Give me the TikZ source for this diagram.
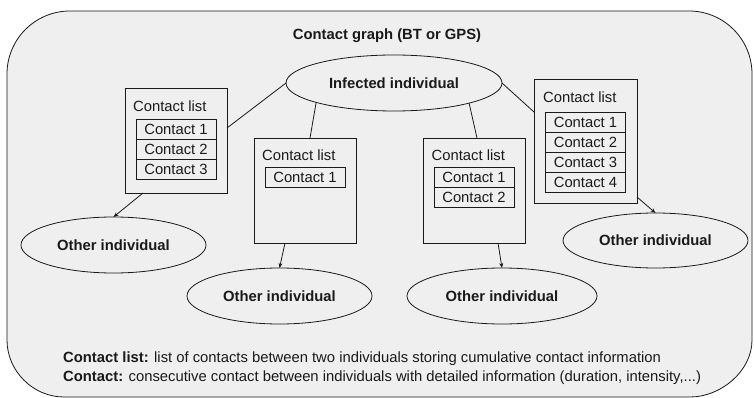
\documentclass[tikz,border=0pt]{standalone}
\usepackage{fontspec}
\setmainfont{Liberation Sans}
\usetikzlibrary{shapes.geometric,arrows.meta}
\definecolor{bggray}{HTML}{EFEFEF}
\definecolor{ink}{HTML}{1A1A1A}
\tikzset{
  x=1pt, y=-1pt,
  every node/.style={font=\fontsize{14.8}{17}\selectfont, text=ink},
  listbox/.style={draw=ink, line width=0.8pt, rectangle, inner sep=0pt, outer sep=0pt, minimum width=102pt},
  cbox/.style={draw=ink, line width=0.8pt, rectangle, inner sep=0pt, outer sep=0pt, minimum width=80pt, minimum height=20pt},
  lbl/.style={anchor=west, inner sep=0pt},
  indiv/.style={draw=ink, line width=0.8pt, ellipse, inner sep=0pt, outer sep=0pt, minimum width=185pt, minimum height=56pt, font=\fontsize{14.8}{17}\selectfont\bfseries},
  link/.style={draw=ink, line width=0.8pt},
  arr/.style={link, -{Stealth[length=5pt,width=4pt]}},
  frame/.style={draw=ink, line width=0.8pt, fill=bggray}
}
\begin{document}
\begin{tikzpicture}
\useasboundingbox (0,0) rectangle (754,398);
% outer frame
\path[frame] (7,74) .. controls (7,39.2) and (35.2,11) .. (70,11)
  -- (689,11) .. controls (723.8,11) and (752,39.2) .. (752,74)
  -- (752,340) .. controls (752,371) and (721,397) .. (690,397)
  -- (64,397) .. controls (33,397) and (7,371) .. (7,340) -- cycle;
\node[font=\fontsize{14.8}{17}\selectfont\bfseries] (title) at (387,36) {Contact graph (BT or GPS)};

% infected individual
\node[indiv, minimum width=216pt] (Inf) at (394,83) {Infected individual};

% contact list boxes
\node[listbox, minimum height=105pt] (A) at (176,140.5) {};
\node[listbox, minimum height=105pt] (B) at (305,190.5) {};
\node[listbox, minimum height=105pt] (C) at (474.5,190.5) {};
\node[listbox, minimum height=124pt, minimum width=103pt] (D) at (585.5,141) {};

\node[lbl] (Al) at ([xshift=8pt,yshift=-18pt]A.north west) {Contact list};
\node[lbl] (Bl) at ([xshift=8pt,yshift=-17pt]B.north west) {Contact list};
\node[lbl] (Cl) at ([xshift=8pt,yshift=-17pt]C.north west) {Contact list};
\node[lbl] (Dl) at ([xshift=9pt,yshift=-18pt]D.north west) {Contact list};

\node[cbox] (A1) at (176,129) {Contact 1};
\node[cbox] (A2) at (176,149) {Contact 2};
\node[cbox] (A3) at (176,169) {Contact 3};

\node[cbox] (B1) at (305,177) {Contact 1};

\node[cbox] (C1) at (474,177) {Contact 1};
\node[cbox] (C2) at (474,197) {Contact 2};

\node[cbox] (D1) at (585.5,122) {Contact 1};
\node[cbox] (D2) at (585.5,142) {Contact 2};
\node[cbox] (D3) at (585.5,162) {Contact 3};
\node[cbox] (D4) at (585.5,182) {Contact 4};

% other individuals
\node[indiv] (E1) at (113.5,245) {Other individual};
\node[indiv] (E2) at (279.5,296) {Other individual};
\node[indiv, minimum width=190pt] (E3) at (502,296) {Other individual};
\node[indiv, minimum height=55pt] (E4) at (655.5,240.5) {Other individual};

% links from infected individual
\draw[link] (Inf.west) -- ([yshift=12.5pt]A.east);
\draw[link] (Inf.194.7) -- ([xshift=5pt]B.north);
\draw[link] (Inf.345.4) -- ([xshift=2.5pt]C.north);
\draw[link] (Inf.east) -- ([yshift=29pt]D.west);

% arrows to other individuals
\draw[arr] ([xshift=-33pt]A.south) -- (E1.north);
\draw[arr] ([xshift=-20pt]B.south) -- (E2.north);
\draw[arr] ([xshift=23.5pt]C.south) -- (E3.north);
\draw[arr] ([yshift=-56pt]D.east) -- (E4.north);

% legend
\node[anchor=west, align=left, inner sep=0pt, font=\fontsize{14.8}{18.5}\selectfont] (foot) at (63,368)
  {\textbf{Contact list:} list of contacts between two individuals storing cumulative contact information\\
   \textbf{Contact:} consecutive contact between individuals with detailed information (duration, intensity,...)};
\end{tikzpicture}
\end{document}
